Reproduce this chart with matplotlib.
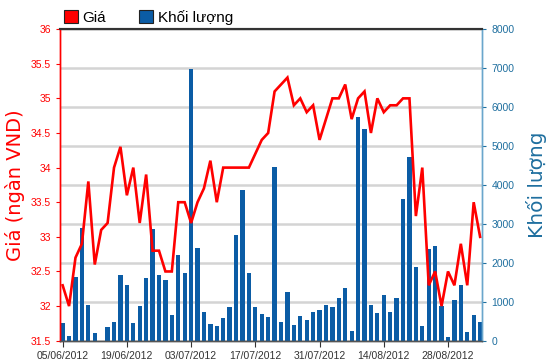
import numpy as np
import matplotlib
matplotlib.use("Agg")
import matplotlib.pyplot as plt
from matplotlib.patches import Patch

# --- Data --------------------------------------------------------------------
price = [32.3, 32.0, 32.7, 32.9, 33.8, 32.6, 33.1, 33.2, 34.0, 34.3,
         33.6, 34.0, 33.2, 33.9, 32.8, 32.8, 32.5, 32.5, 33.5, 33.5,
         33.2, 33.5, 33.7, 34.1, 33.5, 34.0, 34.0, 34.0, 34.0, 34.0,
         34.2, 34.4, 34.5, 35.1, 35.2, 35.3, 34.9, 35.0, 34.8, 34.9,
         34.4, 34.7, 35.0, 35.0, 35.2, 34.7, 35.0, 35.1, 34.5, 35.0,
         34.8, 34.9, 34.9, 35.0, 35.0, 33.3, 34.0, 32.3, 32.5, 32.0,
         32.5, 32.3, 32.9, 32.3, 33.5, 33.0]

volume = [445, 120, 1627, 2904, 916, 188, 0, 343, 471, 1687,
          1430, 445, 899, 1602, 2869, 1687, 1559, 660, 2201, 1730,
          6972, 2390, 728, 420, 377, 574, 857, 2715, 3872, 1730,
          857, 677, 600, 4471, 471, 1242, 403, 634, 531, 728,
          788, 916, 857, 1088, 1345, 248, 5756, 5430, 916, 702,
          1173, 728, 1088, 3640, 4728, 1902, 377, 2355, 2441, 899,
          86, 1045, 1430, 214, 660, 471]

tick_labels = ["05/06/2012", "19/06/2012", "03/07/2012", "17/07/2012",
               "31/07/2012", "14/08/2012", "28/08/2012"]

# --- Style -------------------------------------------------------------------
plt.rcParams['font.family'] = ['Liberation Sans', 'DejaVu Sans']
red = '#ff0000'
blue = '#0b5ca5'
blue_txt = '#1f6f9f'

x = np.arange(len(price))

fig = plt.figure(figsize=(5.5, 3.64), dpi=100)
ax_vol = fig.add_axes([0.109, 0.064, 0.768, 0.856])
ax = ax_vol.twinx()

# volume bars (behind)
ax_vol.bar(x, volume, width=0.67, color=blue, edgecolor='none', zorder=2)
ax_vol.set_ylim(0, 8000)
ax_vol.set_yticks(range(0, 8001, 1000))
ax_vol.grid(axis='y', color='#d4d4d4', linewidth=1.8, zorder=0)
ax_vol.set_axisbelow(True)
ax_vol.yaxis.tick_right()
ax_vol.yaxis.set_label_position('right')
ax_vol.tick_params(axis='y', colors=blue_txt, labelsize=7.5, length=3, width=0.8)
ax_vol.set_ylabel("Khối lượng", color=blue_txt, fontsize=14.5, labelpad=8,
                  family=['DejaVu Sans'])

# price line (front)
ax.set_zorder(ax_vol.get_zorder() + 1)
ax.patch.set_visible(False)
ax.plot(x, price, color=red, linewidth=1.9, solid_joinstyle='miter')
ax.set_ylim(31.5, 36)
ax.set_yticks(np.arange(31.5, 36.01, 0.5))
ax.set_yticklabels([f"{v:g}" for v in np.arange(31.5, 36.01, 0.5)])
ax.yaxis.tick_left()
ax.yaxis.set_label_position('left')
ax.tick_params(axis='y', colors=red, labelsize=7.5, length=3, width=0.8)
ax.set_ylabel("Giá (ngàn VND)", color=red, fontsize=14, labelpad=4,
              family=['DejaVu Sans'])

ax.set_xlim(-0.42, 65.35)
ax_vol.set_xticks(range(0, len(price), 10))
ax_vol.set_xticklabels(tick_labels)
ax_vol.tick_params(axis='x', labelsize=7.5, length=4, width=0.8, colors='#333333')
ax.tick_params(axis='x', bottom=False, labelbottom=False)

for a in (ax, ax_vol):
    a.spines['left'].set_color(red)
    a.spines['right'].set_color('#6aa6cc')
    a.spines['top'].set_color('#333333')
    a.spines['bottom'].set_color('#555555')
    for s in a.spines.values():
        s.set_linewidth(1.0)
ax_vol.spines['top'].set_linewidth(1.5)
ax.spines['top'].set_linewidth(1.5)

handles = [Patch(facecolor=red, edgecolor='#222222', linewidth=0.8, label='Giá'),
           Patch(facecolor=blue, edgecolor='#222222', linewidth=0.8, label='Khối lượng')]
fig.legend(handles=handles, loc='lower left', bbox_to_anchor=(0.105, 0.915),
           ncol=2, frameon=False, fontsize=11, handlelength=0.9, handleheight=0.9,
           handletextpad=0.3, columnspacing=2.2, borderaxespad=0)

fig.savefig("out.png", dpi=100)
